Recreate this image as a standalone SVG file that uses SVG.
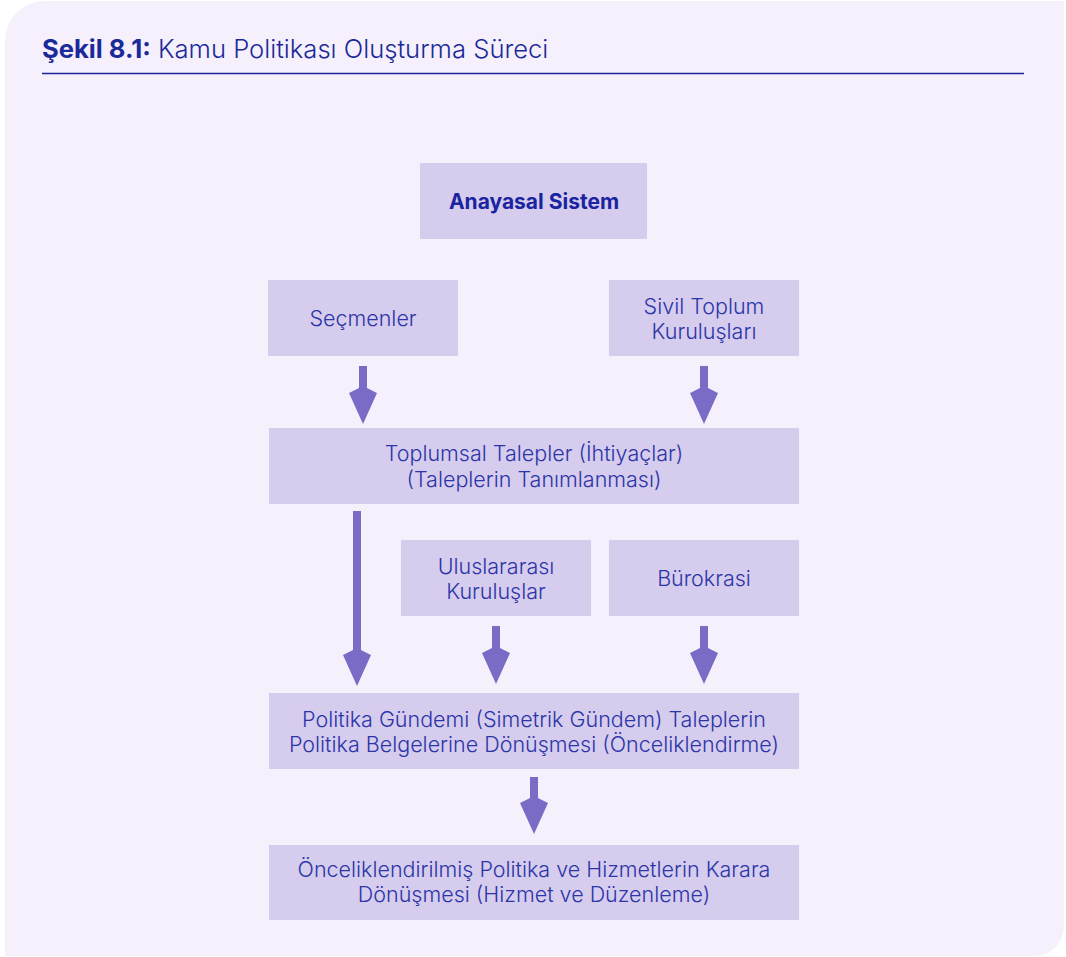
<svg xmlns="http://www.w3.org/2000/svg" width="1066" height="957" viewBox="0 0 1066 957">
<style>
.bg{fill:#f5f0fb}
.box{fill:#d6cced}
.t{font-family:Inter,"Liberation Sans",Arial,sans-serif;font-size:21.5px;font-weight:300;fill:#2b35a8;text-anchor:middle}
.b{font-weight:bold;fill:#1a24a0;font-size:21px}
.title{font-family:Inter,"Liberation Sans",Arial,sans-serif;font-size:25.6px;font-weight:300;fill:#1b2a9a}
.arr{fill:#7a6cc6}
</style>
<path class="bg" d="M45 1 H1064 V926 A30 30 0 0 1 1034 956 H5 V41 A40 40 0 0 1 45 1 Z"/>
<g id="title">
<text class="title" x="42" y="58"><tspan font-weight="bold">Şekil 8.1:</tspan> Kamu Politikası Oluşturma Süreci</text>
<line x1="42" y1="73.5" x2="1024" y2="73.5" stroke="#1a2294" stroke-width="1.3"/>
</g>
<g id="anayasal"><rect class="box" x="420" y="163" width="227" height="76"/><text class="t b" x="534" y="209">Anayasal Sistem</text></g>
<g id="secmenler"><rect class="box" x="268" y="280" width="190" height="76"/><text class="t" x="363" y="326">Seçmenler</text></g>
<g id="sivil"><rect class="box" x="609" y="280" width="190" height="76"/><text class="t" x="704" y="314">Sivil Toplum</text><text class="t" x="704" y="339">Kuruluşları</text></g>
<g id="toplumsal"><rect class="box" x="269" y="428" width="530" height="76"/><text class="t" x="534" y="461">Toplumsal Talepler (İhtiyaçlar)</text><text class="t" x="534" y="487">(Taleplerin Tanımlanması)</text></g>
<g id="uluslararasi"><rect class="box" x="401" y="540" width="190" height="76"/><text class="t" x="496" y="574">Uluslararası</text><text class="t" x="496" y="599">Kuruluşlar</text></g>
<g id="burokrasi"><rect class="box" x="609" y="540" width="190" height="76"/><text class="t" x="704" y="586">Bürokrasi</text></g>
<g id="gundem"><rect class="box" x="269" y="693" width="530" height="76"/><text class="t" x="534" y="727">Politika Gündemi (Simetrik Gündem) Taleplerin</text><text class="t" x="534" y="752">Politika Belgelerine Dönüşmesi (Önceliklendirme)</text></g>
<g id="karar"><rect class="box" x="269" y="845" width="530" height="75"/><text class="t" x="534" y="877">Önceliklendirilmiş Politika ve Hizmetlerin Karara</text><text class="t" x="534" y="902">Dönüşmesi (Hizmet ve Düzenleme)</text></g>
<g id="connectors">
<path class="arr" d="M359 366 H367 V388 L377 393 L363 424 L349 393 L359 388 Z"/>
<path class="arr" d="M700 366 H708 V388 L718 393 L704 424 L690 393 L700 388 Z"/>
<path class="arr" d="M353 511 H361 V650 L371 655 L357 686 L343 655 L353 650 Z"/>
<path class="arr" d="M492 626 H500 V648 L510 653 L496 684 L482 653 L492 648 Z"/>
<path class="arr" d="M700 626 H708 V648 L718 653 L704 684 L690 653 L700 648 Z"/>
<path class="arr" d="M530 777 H538 V798 L548 803 L534 834 L520 803 L530 798 Z"/>
</g>
</svg>
